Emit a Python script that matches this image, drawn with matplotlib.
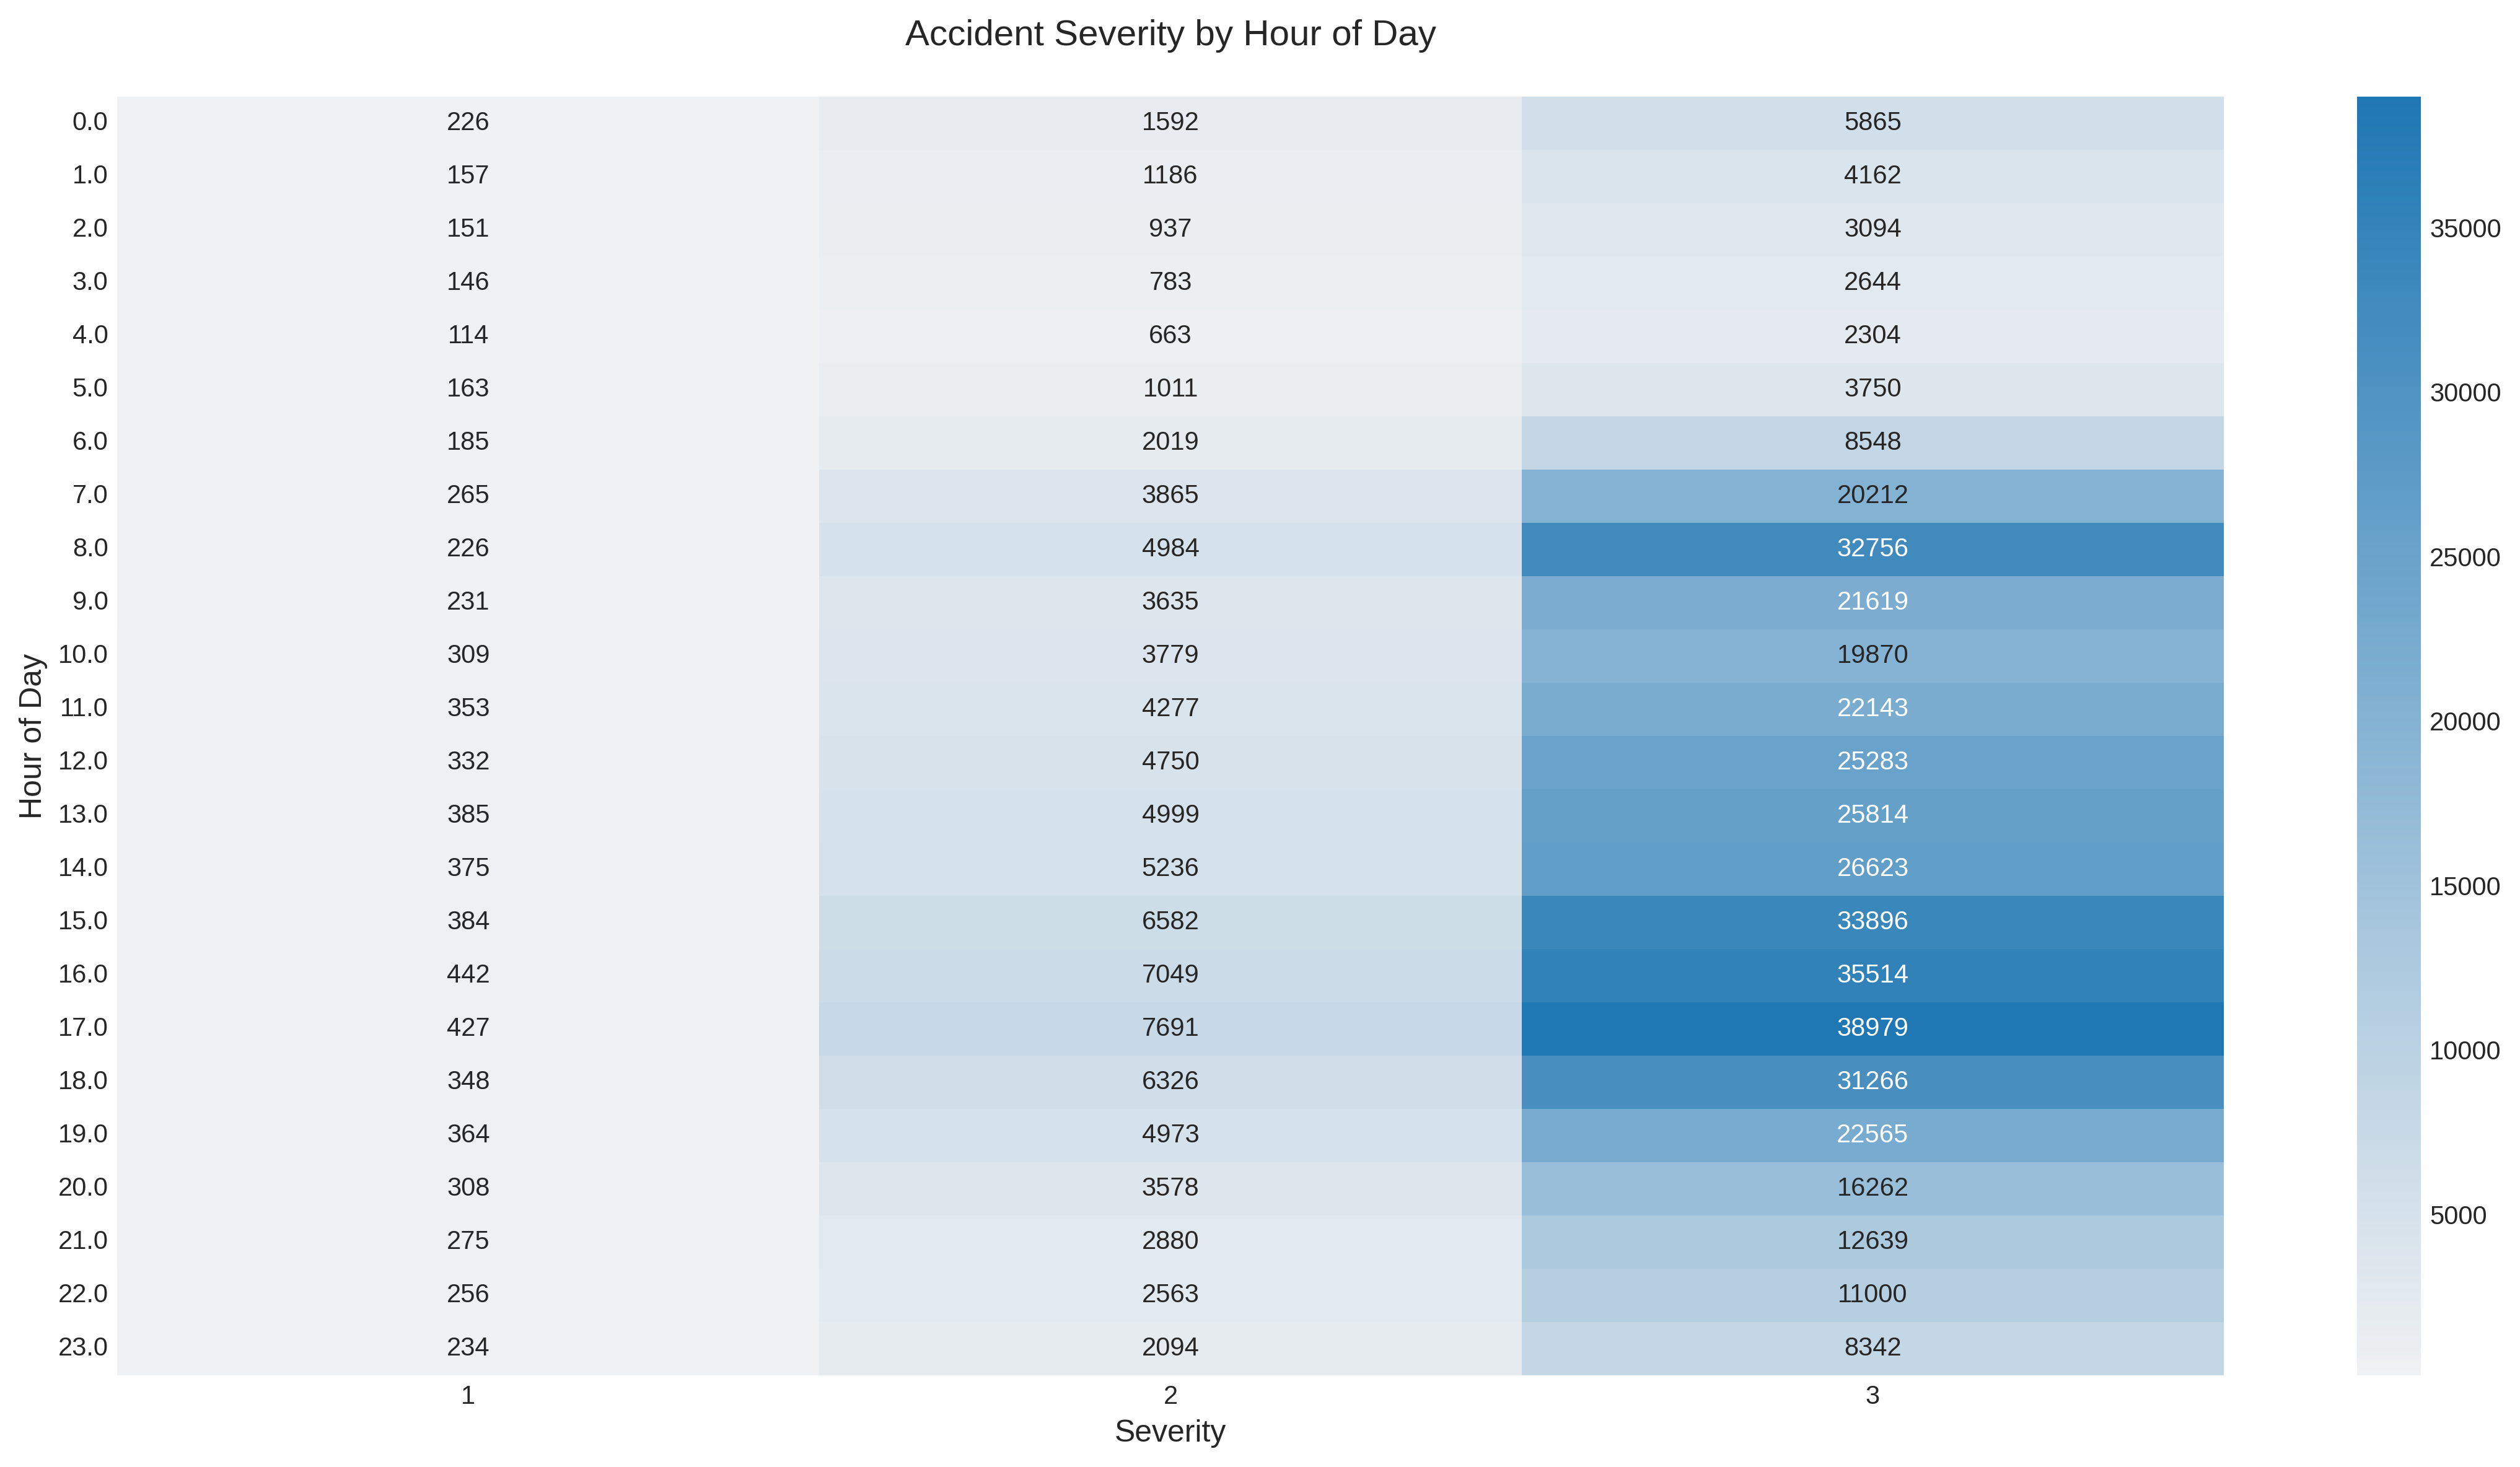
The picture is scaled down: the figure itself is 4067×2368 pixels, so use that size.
import numpy as np
import pandas as pd
import matplotlib
matplotlib.use('Agg')
import matplotlib.pyplot as plt
import seaborn as sns

# Data
hours = [float(h) for h in range(24)]
severity = [1, 2, 3]

sev1 = [226, 157, 151, 146, 114, 163, 185, 265, 226, 231, 309, 353,
        332, 385, 375, 384, 442, 427, 348, 364, 308, 275, 256, 234]
sev2 = [1592, 1186, 937, 783, 663, 1011, 2019, 3865, 4984, 3635, 3779, 4277,
        4750, 4999, 5236, 6582, 7049, 7691, 6326, 4973, 3578, 2880, 2563, 2094]
sev3 = [5865, 4162, 3094, 2644, 2304, 3750, 8548, 20212, 32756, 21619, 19870, 22143,
        25283, 25814, 26623, 33896, 35514, 38979, 31266, 22565, 16262, 12639, 11000, 8342]

table = pd.DataFrame({1: sev1, 2: sev2, 3: sev3}, index=hours)

plt.style.use('seaborn-v0_8-whitegrid')
plt.rcParams['font.family'] = ['Liberation Sans', 'DejaVu Sans']
plt.rcParams['text.color'] = '#262626'
plt.rcParams['axes.labelcolor'] = '#262626'
plt.rcParams['xtick.color'] = '#262626'
plt.rcParams['ytick.color'] = '#262626'

fig = plt.figure(figsize=(4067 / 300, 2368 / 300), dpi=300)
ax = fig.add_axes([0.0465, 0.0625, 0.836, 0.8716])
cax = fig.add_axes([0.9353, 0.0625, 0.0253, 0.8716])

cmap = sns.light_palette('#1f77b4', as_cmap=True)
sns.heatmap(table, ax=ax, cbar_ax=cax, cmap=cmap, annot=True, fmt='d',
            annot_kws={'fontsize': 10},
            yticklabels=[str(h) for h in hours])

ax.set_title('Accident Severity by Hour of Day', fontsize=14, pad=20)
ax.set_xlabel('Severity', fontsize=12)
ax.set_ylabel('Hour of Day', fontsize=12)
ax.tick_params(axis='both', labelsize=10, length=0)
plt.setp(ax.get_yticklabels(), rotation=0)
cax.tick_params(labelsize=10, length=0)
cax.yaxis.set_ticks([5000, 10000, 15000, 20000, 25000, 30000, 35000])

fig.savefig('out.png', dpi=300)
